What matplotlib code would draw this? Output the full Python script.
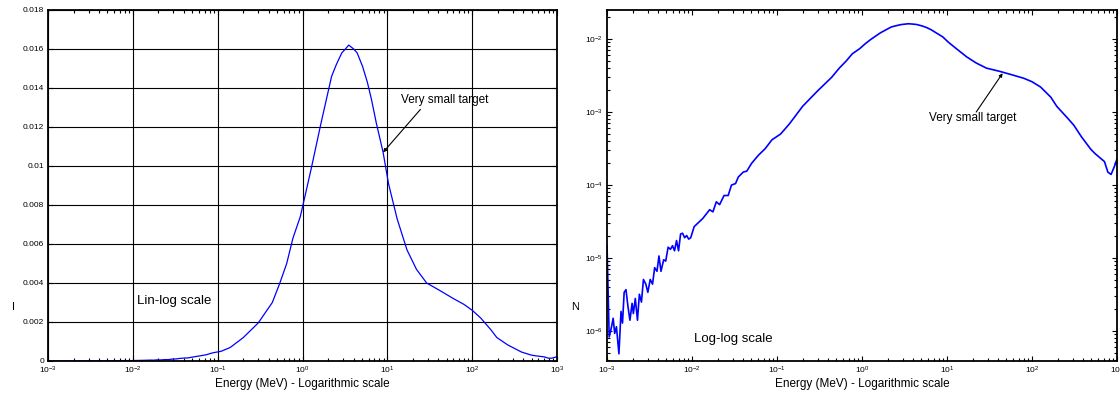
import matplotlib
matplotlib.use("Agg")
import matplotlib.pyplot as plt
import numpy as np
from matplotlib.ticker import FixedLocator, FuncFormatter, LogLocator, NullFormatter
from matplotlib.transforms import Bbox, TransformedBbox

plt.rcParams["font.family"] = ["Liberation Sans", "DejaVu Sans"]
plt.rcParams["mathtext.default"] = "regular"

# Energy spectrum (MeV)
energy = [
    1.00e-3, 1.06e-3, 1.13e-3, 1.18e-3, 1.23e-3, 1.29e-3, 1.38e-3, 1.46e-3,
    1.52e-3, 1.59e-3, 1.67e-3, 1.76e-3, 1.86e-3, 1.97e-3, 2.04e-3, 2.15e-3,
    2.28e-3, 2.40e-3, 2.54e-3, 2.68e-3, 2.86e-3, 3.02e-3, 3.22e-3, 3.43e-3,
    3.63e-3, 3.87e-3, 4.08e-3, 4.31e-3, 4.64e-3, 4.90e-3, 5.23e-3, 5.57e-3,
    5.89e-3, 6.22e-3, 6.57e-3, 6.94e-3, 7.33e-3, 7.74e-3, 8.18e-3, 8.64e-3,
    9.13e-3, 9.64e-3, 1.06e-2, 1.34e-2, 1.61e-2, 1.76e-2, 1.93e-2, 2.11e-2,
    2.38e-2, 2.66e-2, 2.91e-2, 3.25e-2, 3.50e-2, 4.01e-2, 4.40e-2, 5.04e-2,
    6.05e-2, 7.26e-2, 8.71e-2, 0.110, 0.140, 0.200, 0.300, 0.440,
    0.54, 0.65, 0.77, 0.94, 1.10, 1.27, 1.65, 2.2,
    2.5, 2.9, 3.2, 3.5, 4.0, 4.4, 5.1, 5.8, 6.5, 7.4, 8.9, 10.3, 13,
    17, 22, 29, 42, 60, 80, 100, 126,
    166, 195, 263, 310, 380, 490, 550, 710, 780, 850, 930, 1000,
]
intensity = [
    1.48e-5, 8.3e-7, 1.15e-6, 1.5e-6, 9.3e-7, 1.15e-6, 4.9e-7, 1.86e-6,
    1.29e-6, 3.4e-6, 3.7e-6, 2.2e-6, 1.41e-6, 2.4e-6, 1.74e-6, 2.8e-6,
    1.41e-6, 3.2e-6, 2.5e-6, 5.1e-6, 4.4e-6, 3.4e-6, 5.1e-6, 4.4e-6,
    7.4e-6, 6.6e-6, 1.07e-5, 6.6e-6, 9.5e-6, 9.1e-6, 1.41e-5, 1.32e-5,
    1.48e-5, 1.26e-5, 1.74e-5, 1.26e-5, 2.14e-5, 2.19e-5, 1.9e-5, 2.04e-5,
    1.82e-5, 1.9e-5, 2.7e-5, 3.5e-5, 4.6e-5, 4.3e-5, 5.9e-5, 5.4e-5,
    7.2e-5, 7.2e-5, 1.0e-4, 1.05e-4, 1.29e-4, 1.51e-4, 1.55e-4, 2.0e-4,
    2.57e-4, 3.16e-4, 4.17e-4, 5.0e-4, 6.9e-4, 1.2e-3, 1.95e-3, 3.0e-3,
    0.0040, 0.0050, 0.0063, 0.0074, 0.0087, 0.0099, 0.0122, 0.0146,
    0.0152, 0.0158, 0.0160, 0.0162, 0.0160, 0.0158, 0.0151, 0.0143, 0.0134, 0.0122, 0.0107, 0.0091, 0.0073,
    0.0057, 0.0047, 0.0040, 0.0036, 0.0032, 0.0029, 0.0026, 0.0022,
    0.0016, 0.0012, 0.00082, 0.00066, 0.00046, 0.00031, 0.00027, 0.00021, 0.00015, 0.00014, 0.00018, 0.00023,
]

lin_yticks = [0, 0.002, 0.004, 0.006, 0.008, 0.010, 0.012, 0.014, 0.016, 0.018]
x_label = "Energy (MeV) - Logarithmic scale"

fig = plt.figure(figsize=(11.2, 3.96), dpi=100)
ax1 = fig.add_axes([0.0429, 0.0884, 0.4545, 0.8864])
ax2 = fig.add_axes([0.5420, 0.0884, 0.4554, 0.8864])


def style_axis(ax):
    ax.set_xscale("log")
    ax.set_xlim(1e-3, 1e3)
    ax.xaxis.set_major_locator(LogLocator(base=10, numticks=10))
    ax.xaxis.set_minor_locator(LogLocator(base=10, subs=np.arange(2, 10), numticks=10))
    ax.xaxis.set_minor_formatter(NullFormatter())
    ax.tick_params(which="both", direction="in", top=True, right=True,
                   labelsize=6, width=0.8, color="black")
    ax.tick_params(which="major", length=3.5, pad=3)
    ax.tick_params(which="minor", length=2)
    for sp in ax.spines.values():
        sp.set_linewidth(1.3)
    ax.set_xlabel(x_label, fontsize=8.5, labelpad=1)


# Left: linear y, log x
style_axis(ax1)
ax1.plot(energy, intensity, color="#0000ff", linewidth=0.9)
ax1.set_ylim(0, 0.018)
ax1.yaxis.set_major_locator(FixedLocator(lin_yticks))
ax1.yaxis.set_major_formatter(FuncFormatter(lambda v, p: f"{v:g}"))
ax1.grid(True, which="major", color="black", linewidth=0.8)
ax1.text(0.0112, 0.00308, "Lin-log scale", fontsize=9.5, va="center", ha="left")
ax1.text(14.5, 0.0134, "Very small target", fontsize=8.5, va="center", ha="left")
ax1.annotate("", xy=(8.9, 0.0107), xytext=(24.5, 0.0129),
             arrowprops=dict(arrowstyle="-|>", color="black", lw=0.8,
                             mutation_scale=5, shrinkA=0, shrinkB=0))

# Right: log-log
style_axis(ax2)
ax2.set_yscale("log")
ax2.plot(energy, intensity, color="#0000ff", linewidth=1.2)
ax2.set_ylim(3.9e-7, 2.5e-2)
ax2.yaxis.set_major_locator(LogLocator(base=10, numticks=10))
ax2.yaxis.set_minor_locator(LogLocator(base=10, subs=np.arange(2, 10), numticks=10))
ax2.yaxis.set_minor_formatter(NullFormatter())
ax2.text(0.0106, 7.9e-7, "Log-log scale", fontsize=9.5, va="center", ha="left")
ax2.text(20, 8.3e-4, "Very small target", fontsize=8.5, va="center", ha="center")
ax2.annotate("", xy=(45, 3.4e-3), xytext=(22, 1.0e-3),
             arrowprops=dict(arrowstyle="-|>", color="black", lw=0.8,
                             mutation_scale=5, shrinkA=0, shrinkB=0))

# clipped y labels, as in the original
fig.text(12 / 1120, 1 - 307 / 396, "I", fontsize=8, va="center")
t = fig.text(571 / 1120, 1 - 307 / 396, "Nc", fontsize=8, va="center")
t.set_clip_box(TransformedBbox(Bbox([[0, 0], [579 / 1120, 1]]), fig.transFigure))
t.set_clip_on(True)

fig.savefig("out.png", dpi=100)
